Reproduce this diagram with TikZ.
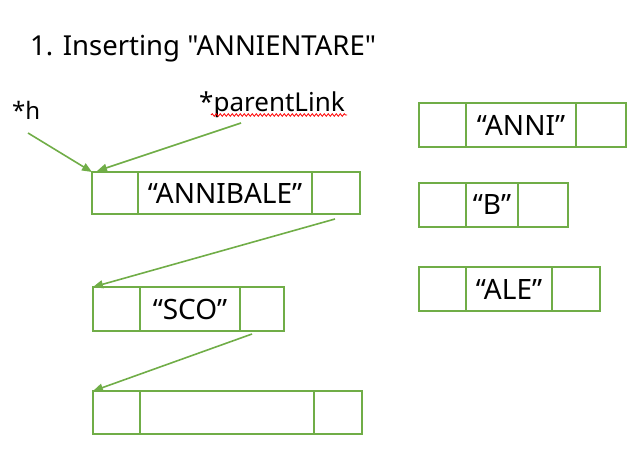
\documentclass[tikz,border=0pt]{standalone}
\usepackage{fontspec}
\setmainfont{Noto Sans}[Ligatures=TeXOff]
\usetikzlibrary{arrows.meta,decorations.pathmorphing}
\definecolor{offgreen}{HTML}{70AD47}
\begin{document}
\begin{tikzpicture}[x=1pt,y=-1pt,
  cell/.style={draw=offgreen,line width=2.2pt,inner sep=0pt,outer sep=0pt,anchor=north west,minimum height=42pt,font=\fontsize{28}{30}\selectfont},
  link/.style={draw=offgreen,line width=1.6pt,-{Triangle[length=10pt,width=8pt]}},
  lbl/.style={inner sep=0pt,anchor=base west,font=\fontsize{26}{30}\selectfont}]
\useasboundingbox (0,0) rectangle (642,455);
% title and pointer labels
\node[lbl,font=\fontsize{27.5}{30}\selectfont] (title) at (30,55) {1. Inserting "ANNIENTARE"};
\node[lbl,font=\fontsize{24}{30}\selectfont] (h) at (12,119) {*h};
\node[lbl] (pl) at (199,111) {*parentLink};
\draw[red,line width=0.8pt,decorate,decoration={snake,amplitude=1.3pt,segment length=4pt}] (211,115) -- (347,115);
% box 1
\node[cell,minimum width=46pt] (b1a) at (92,172) {};
\node[cell,minimum width=174pt] (b1b) at (138,172) {“ANNIBALE”};
\node[cell,minimum width=48pt] (b1c) at (312,172) {};
% box 2
\node[cell,minimum width=47pt,minimum height=44pt] (b2a) at (93,287) {};
\node[cell,minimum width=100pt,minimum height=44pt] (b2b) at (140,287) {“SCO”};
\node[cell,minimum width=44pt,minimum height=44pt] (b2c) at (240,287) {};
% box 3
\node[cell,minimum width=47pt,minimum height=43pt] (b3a) at (93,391) {};
\node[cell,minimum width=174pt,minimum height=43pt] (b3b) at (140,391) {};
\node[cell,minimum width=48pt,minimum height=43pt] (b3c) at (314,391) {};
% right boxes
\node[cell,minimum width=47pt,minimum height=44pt] (r1a) at (419,103) {};
\node[cell,minimum width=110pt,minimum height=44pt] (r1b) at (466,103) {“ANNI”};
\node[cell,minimum width=50pt,minimum height=44pt] (r1c) at (576,103) {};
\node[cell,minimum width=47pt,minimum height=44pt] (r2a) at (419,183) {};
\node[cell,minimum width=52pt,minimum height=44pt] (r2b) at (466,183) {“B”};
\node[cell,minimum width=50pt,minimum height=44pt] (r2c) at (518,183) {};
\node[cell,minimum width=47pt,minimum height=44pt] (r3a) at (419,267) {};
\node[cell,minimum width=86pt,minimum height=44pt] (r3b) at (466,267) {“ALE”};
\node[cell,minimum width=48pt,minimum height=44pt] (r3c) at (552,267) {};
% link start points
\coordinate (hs) at (28,133);
\coordinate (ps) at (241,123);
\coordinate (s1) at (335,219);
\coordinate (s2) at (252,334);
% links
\draw[link] (hs) -- (b1a.north west);
\draw[link] (ps) -- ([xshift=5pt,yshift=1pt]b1a.north west);
\draw[link] (s1) -- (b2a.north west);
\draw[link] (s2) -- (b3a.north west);
\end{tikzpicture}
\end{document}
